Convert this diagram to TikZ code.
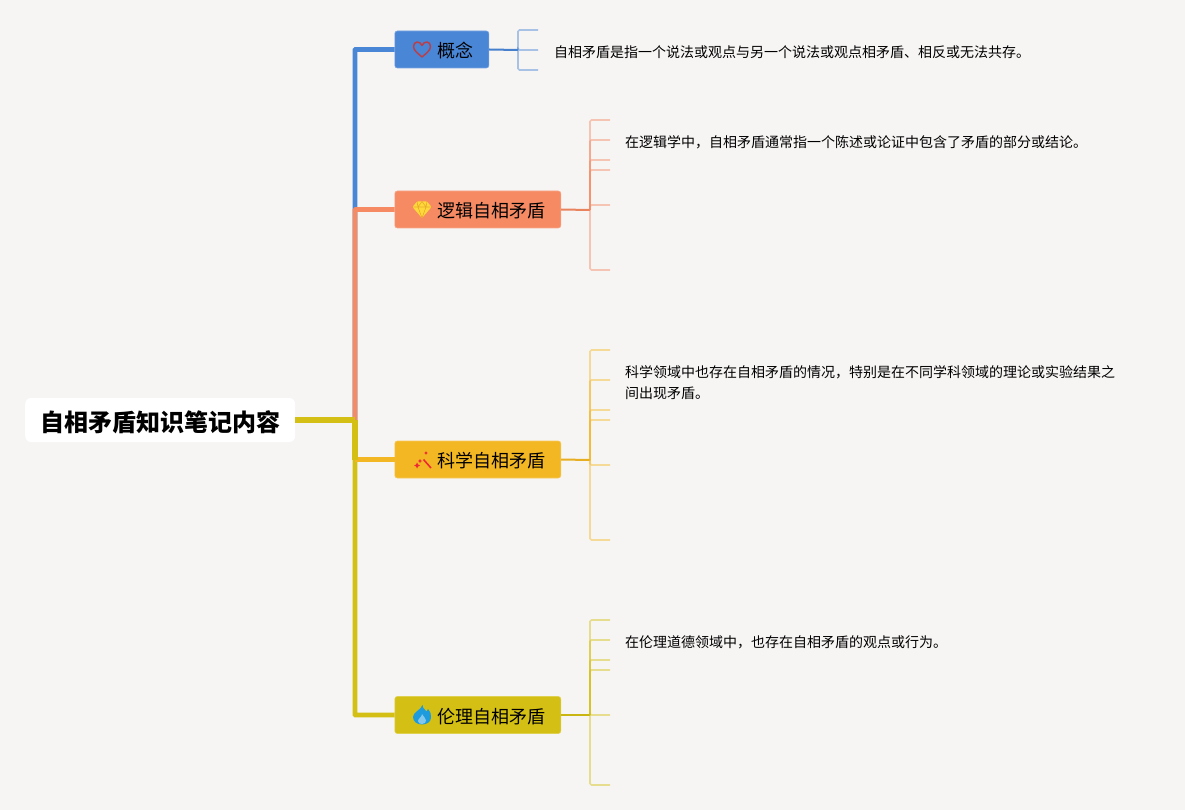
\documentclass[tikz,border=0pt]{standalone}
\usepackage{fontspec}
\setmainfont{Noto Sans CJK SC}
\definecolor{pagebg}{HTML}{F7F5F4}
\definecolor{conceptcol}{HTML}{4A86D6}
\definecolor{logiccol}{HTML}{F58A63}
\definecolor{sciencecol}{HTML}{F3B724}
\definecolor{ethicscol}{HTML}{D4C014}
\definecolor{heartcol}{HTML}{B8404A}
\definecolor{gemcol}{HTML}{FFD93B}
\definecolor{gemline}{HTML}{E8A92A}
\definecolor{wandcol}{HTML}{EC2A34}
\definecolor{flamecol}{HTML}{1E9BDC}
\begin{document}
\begin{tikzpicture}[
x=1pt,y=-1pt,
topic/.style={
    rectangle,
    rounded corners=6pt,
    fill=white,
    anchor=west,
    inner sep=0,
    minimum width=270pt,
    minimum height=44pt,
    text height=24pt,
    text depth=1.8pt,
    font=\fontsize{24}{28}\selectfont\bfseries},
branch/.style={
    rectangle,
    rounded corners=2.5pt,
    draw=#1!75!white,
    line width=.6pt,
    fill=#1,
    anchor=west,
    inner sep=0,
    minimum height=37pt,
    text height=18pt,
    text depth=1.3pt,
    font=\fontsize{18}{22}\selectfont},
note/.style={
    anchor=west,
    align=left,
    inner sep=0,
    font=\fontsize{14}{21}\selectfont},
trunk/.style={
    draw=#1,
    line width=4.6pt,
    rounded corners=.5pt},
twig/.style={
    draw=#1!95!black,
    line width=2pt},
leaf/.style={
    draw=#1,
    draw opacity=.45,
    line width=1.6pt,
    rounded corners=1.5pt},
heartpic/.pic={
    \draw[draw=heartcol,line width=1.5pt,line join=round]
        (0,8) .. controls (-4,4.5) and (-8.5,1.5) .. (-8.5,-2.5)
        .. controls (-8.5,-8) and (-2,-8.5) .. (0,-3.5)
        .. controls (2,-8.5) and (8.5,-8) .. (8.5,-2.5)
        .. controls (8.5,1.5) and (4,4.5) .. (0,8);},
gempic/.pic={
    \fill[gemcol,rounded corners=.8pt] (-5,-8) -- (5,-8) -- (9.5,-2.5) -- (0,8.5) -- (-9.5,-2.5) -- cycle;
    \draw[gemline,line width=.6pt]
        (-9.5,-2.5) -- (9.5,-2.5)
        (-4,-2.5) -- (0,8.5) -- (4,-2.5)
        (-5,-8) -- (-4,-2.5) -- (0,-8) -- (4,-2.5) -- (5,-8);},
wandpic/.pic={
    \draw[wandcol,line width=1.6pt] (0.5,-0.5) -- (8,8);
    \fill[wandcol] (-6,2.5) -- (-5,4.5) -- (-3,5.5) -- (-5,6.5) -- (-6,8.5) -- (-7,6.5) -- (-9,5.5) -- (-7,4.5) -- cycle;
    \fill[wandcol] (-3,-1) -- (-2.3,.3) -- (-1,1) -- (-2.3,1.7) -- (-3,3) -- (-3.7,1.7) -- (-5,1) -- (-3.7,.3) -- cycle;
    \fill[wandcol] (3,-9) -- (3.6,-7.6) -- (5,-7) -- (3.6,-6.4) -- (3,-5) -- (2.4,-6.4) -- (1,-7) -- (2.4,-7.6) -- cycle;},
flamepic/.pic={
    \fill[flamecol] (0.5,-10) .. controls (1,-5) and (4,-6) .. (4.5,-3.5)
        .. controls (5.5,-4) and (6,-5) .. (6,-6)
        .. controls (8.5,-3) and (9.5,0) .. (9,3)
        .. controls (8.5,7.5) and (4,9.5) .. (0,9.5)
        .. controls (-5,9.5) and (-9,6.5) .. (-9,2)
        .. controls (-9,-3) and (-1,-5) .. (0.5,-10) -- cycle;
    \fill[flamecol!55!white] (0,-1) .. controls (0,2) and (-4,3.5) .. (-4,6)
        .. controls (-4,8) and (-2,9) .. (0,9)
        .. controls (2.5,9) and (4,7.5) .. (4,5.5)
        .. controls (4,3) and (1.5,2) .. (0,-1) -- cycle;}
]
\fill[pagebg] (0,0) rectangle (1185,810);
\useasboundingbox (0,0) rectangle (1185,810);
\node(root) [topic] at (25,420) {自相矛盾知识笔记内容};
\node(concept) [branch=conceptcol] at (394.5,49.5) {\hspace*{43pt}概念\hspace*{15pt}};
\node(logic) [branch=logiccol] at (394.5,209.5) {\hspace*{43pt}逻辑自相矛盾\hspace*{15pt}};
\node(science) [branch=sciencecol] at (394.5,459.5) {\hspace*{43pt}科学自相矛盾\hspace*{15pt}};
\node(ethics) [branch=ethicscol] at (394.5,715) {\hspace*{43pt}伦理自相矛盾\hspace*{15pt}};
\pic at (422,49) {heartpic};
\pic at (422,209.5) {gempic};
\pic at (423,460) {wandpic};
\pic at (422,715) {flamepic};
\node(conceptnote) [note] at (554,52.3) {自相矛盾是指一个说法或观点与另一个说法或观点相矛盾、相反或无法共存。};
\node(logicnote) [note] at (625,142.3) {在逻辑学中，自相矛盾通常指一个陈述或论证中包含了矛盾的部分或结论。};
\node(sciencenote) [note] at (625,382.3) {科学领域中也存在自相矛盾的情况，特别是在不同学科领域的理论或实验结果之\\间出现矛盾。};
\node(ethicsnote) [note] at (625,642.3) {在伦理道德领域中，也存在自相矛盾的观点或行为。};
\coordinate(hub) at (355,420);
\draw[trunk=conceptcol] (hub) |- (concept.west);
\draw[trunk=logiccol] (hub) |- (logic.west);
\draw[trunk=ethicscol] (hub) |- (ethics.west);
\draw[trunk=sciencecol] (hub |- science.west) -- (science.west);
\draw[trunk=ethicscol,line width=5.4pt] (root.east) -- (hub);
\draw[trunk=ethicscol,line width=5.4pt] (hub) -- (hub |- science.west);
\coordinate(conceptjoin) at (518,50);
\coordinate(logicjoin) at (590,210);
\coordinate(sciencejoin) at (590,460);
\coordinate(ethicsjoin) at (590,715);
\draw[twig=conceptcol] (concept.east) -- (conceptjoin);
\draw[twig=logiccol] (logic.east) -- (logicjoin);
\draw[twig=sciencecol] (science.east) -- (sciencejoin);
\draw[twig=ethicscol] (ethics.east) -- (ethicsjoin);
\foreach \y [count=\i] in {30,50,70} {
    \coordinate(conceptleaf\i) at (538,\y);
    \draw[leaf=conceptcol] (conceptjoin) |- (conceptleaf\i);
}
\foreach \y [count=\i] in {120,140,160,170,205,270} {
    \coordinate(logicleaf\i) at (610,\y);
    \draw[leaf=logiccol] (logicjoin) |- (logicleaf\i);
}
\foreach \y [count=\i] in {350,380,410,420,465,540} {
    \coordinate(scienceleaf\i) at (610,\y);
    \draw[leaf=sciencecol] (sciencejoin) |- (scienceleaf\i);
}
\foreach \y [count=\i] in {620,640,660,670,715,785} {
    \coordinate(ethicsleaf\i) at (610,\y);
    \draw[leaf=ethicscol] (ethicsjoin) |- (ethicsleaf\i);
}
\end{tikzpicture}
\end{document}
